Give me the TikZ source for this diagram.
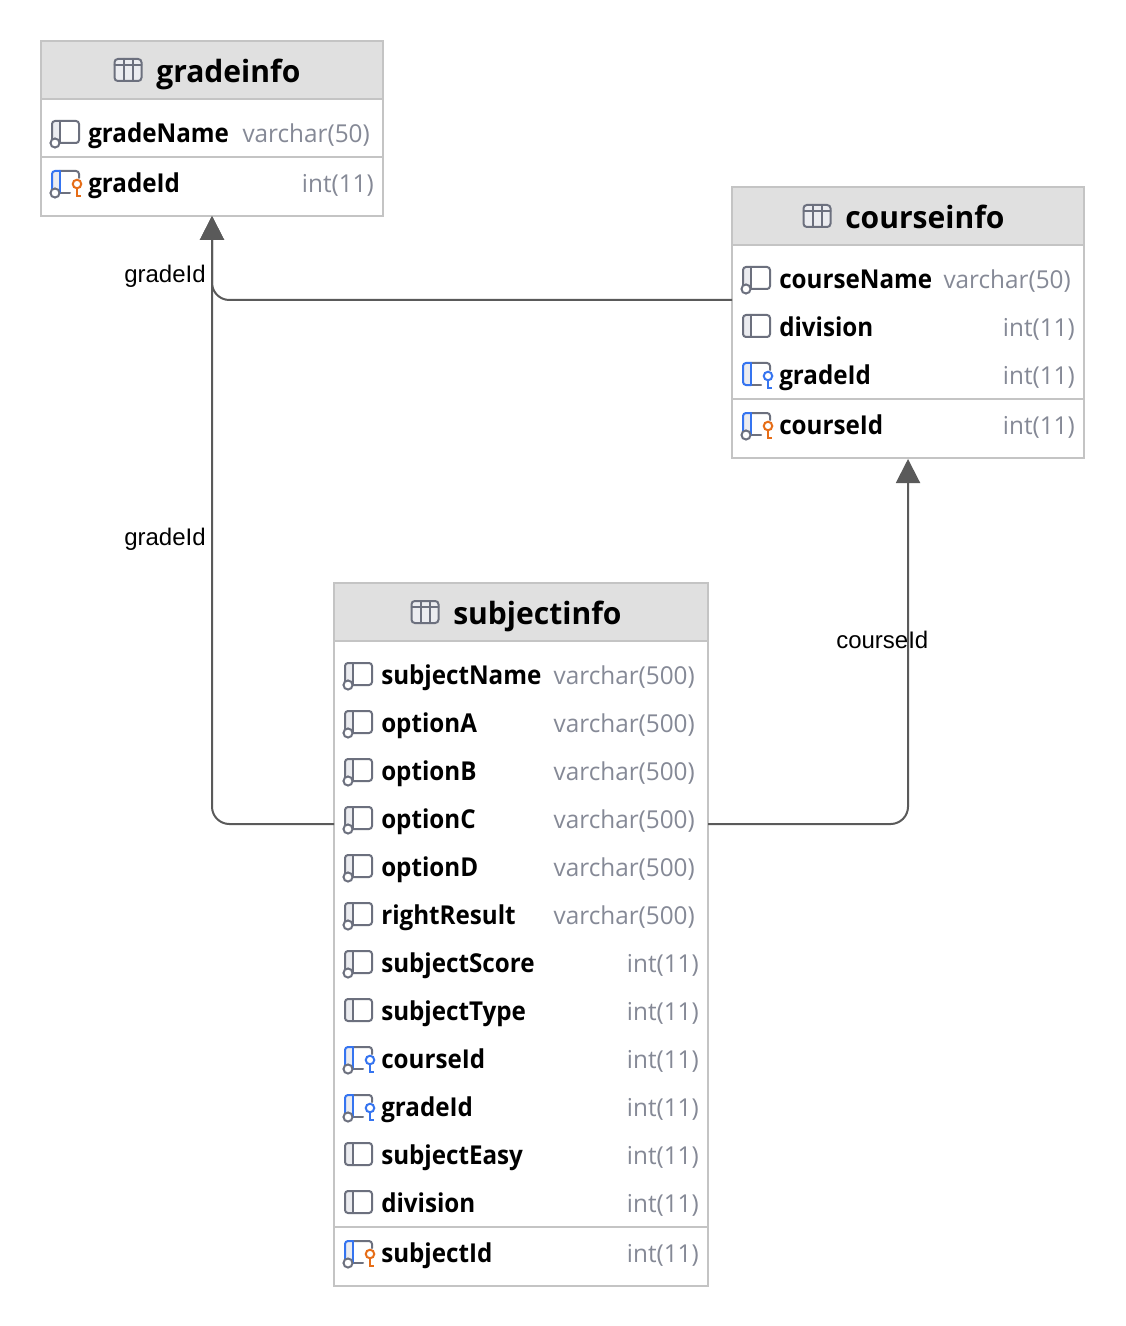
\documentclass[tikz,border=0pt]{standalone}
\usepackage{fontspec}
\usetikzlibrary{arrows.meta}
\setmainfont{Open Sans}
\newfontfamily\labelfont{Liberation Sans}
\newfontfamily\colfont[FakeStretch=0.93]{Open Sans}
\newfontfamily\titlefont[FakeStretch=0.98]{Open Sans}
\newfontfamily\typefont[FakeStretch=0.985]{Open Sans}
\definecolor{hdr}{HTML}{E0E0E0}
\definecolor{bord}{HTML}{C4C4C4}
\definecolor{typec}{HTML}{858996}
\definecolor{icong}{HTML}{6C707E}
\definecolor{iconf}{HTML}{EBECF0}
\definecolor{fkblue}{HTML}{3574F0}
\definecolor{pkor}{HTML}{E66D17}
\definecolor{conn}{HTML}{5A5A5A}
\tikzset{
  tablebox/.style={draw=bord,line width=0.9pt,fill=white,inner sep=0pt,outer sep=0pt,anchor=north west},
  headbox/.style={draw=bord,line width=0.9pt,fill=hdr,inner sep=0pt,outer sep=0pt,anchor=north west},
  sepline/.style={draw=bord,line width=1.2pt},
  titletext/.style={inner sep=0pt,anchor=base west,font=\titlefont\fontsize{23}{23}\selectfont\bfseries},
  coltext/.style={inner sep=0pt,anchor=base west,font=\colfont\fontsize{19.5}{20}\selectfont\bfseries},
  typetext/.style={inner sep=0pt,anchor=base east,text=typec,font=\typefont\fontsize{18.5}{20}\selectfont},
  linklabel/.style={inner sep=0pt,anchor=base west,font=\labelfont\fontsize{18}{18}\selectfont},
  link/.style={draw=conn,line width=1.5pt,rounded corners=13pt,-{Triangle[width=18pt,length=18pt]}},
  icon/.style={line width=1.5pt,icong,line cap=round},
  colbox/.pic={
    \fill[iconf] (0,-12) rectangle (8,10);
    \draw[icon] (3,-12) -- (24,-12) arc[start angle=90,end angle=0,radius=2.25pt] -- (27,7) arc[start angle=0,end angle=-90,radius=2.25pt] -- (3,10) arc[start angle=-90,end angle=-180,radius=2.25pt] -- (0,-9) arc[start angle=180,end angle=90,radius=2.25pt] -- cycle;
    \draw[icon] (8,-12) -- (8,10);
  },
  nullring/.pic={
    \filldraw[icon,fill=white] (3,10) circle[radius=3.4pt];
  },
  colnull/.pic={\pic{colbox};\pic{nullring};},
  fkbase/.pic={
    \fill[iconf] (0,-12) rectangle (8,10);
    \draw[icon] (8,-12) -- (24,-12) arc[start angle=90,end angle=0,radius=2.25pt] -- (27,-5);
    \draw[icon] (8,10) -- (18,10);
    \draw[icon,fkblue] (8,-12) -- (3,-12) arc[start angle=90,end angle=180,radius=2.25pt] -- (0,7);
    \draw[icon,fkblue] (8,-12) -- (8,10);
  },
  fknn/.pic={
    \pic{fkbase};
    \draw[icon,fkblue] (0,7) arc[start angle=180,end angle=270,radius=2.25pt] -- (8,10);
    \filldraw[line width=1.5pt,draw=fkblue,fill=white] (25,1) circle[radius=3.2pt];
    \draw[line width=1.5pt,fkblue] (25,6) -- (25,13) -- (29,13);
  },
  fknull/.pic={
    \pic{fkbase};\pic{nullring};
    \filldraw[line width=1.5pt,draw=fkblue,fill=white] (25,1) circle[radius=3.2pt];
    \draw[line width=1.5pt,fkblue] (25,6) -- (25,13) -- (29,13);
  },
  pkfk/.pic={
    \pic{fkbase};\pic{nullring};
    \filldraw[line width=1.5pt,draw=pkor,fill=white] (25,1) circle[radius=3.2pt];
    \draw[line width=1.5pt,pkor] (25,6) -- (25,13) -- (29,13);
  },
  tableicon/.pic={
    \filldraw[icon,fill=iconf,rounded corners=2.5pt] (-13.5,-11) rectangle (13.5,11);
    \draw[icon] (-13.5,-5) -- (13.5,-5) (-4.5,-11) -- (-4.5,11) (4.5,-11) -- (4.5,11);
  }
}
% \colrow{id}{icon x}{row y}{pic}{name}{type}{type right edge}
\newcommand{\colrow}[7]{%
  \pic at (#2,#3) {#4};
  \node[coltext] (#1n) at (#2+36,#3+9.3) {#5};
  \node[typetext] (#1t) at (#7,#3+9.3) {#6};
}
\begin{document}
\begin{tikzpicture}[x=0.75pt,y=-0.75pt]
\useasboundingbox (0,0) rectangle (1126,1326);
\fill[white] (0,0) rectangle (1126,1326);
% gradeinfo
\node[tablebox,minimum width=256.5pt,minimum height=131.25pt] (gradeinfo) at (41,41) {};
\node[headbox,minimum width=256.5pt,minimum height=43.5pt] (gradehead) at (41,41) {};
\pic at (128,70) {tableicon};
\node[titletext] (gradetitle) at (156,82.5) {gradeinfo};
\draw[sepline] (gradeinfo.west |- 0,157) -- (gradeinfo.east |- 0,157);
\colrow{ga}{52}{133}{colnull}{gradeName}{varchar(50)}{370}
\colrow{gb}{52}{183}{pkfk}{gradeId}{int(11)}{374}
% courseinfo
\node[tablebox,minimum width=264pt,minimum height=203.25pt] (courseinfo) at (732,187) {};
\node[headbox,minimum width=264pt,minimum height=43.5pt] (coursehead) at (732,187) {};
\pic at (817,216) {tableicon};
\node[titletext] (coursetitle) at (845,228.5) {courseinfo};
\draw[sepline] (courseinfo.west |- 0,399) -- (courseinfo.east |- 0,399);
\colrow{ca}{743}{279}{colnull}{courseName}{varchar(50)}{1071}
\colrow{cb}{743}{327}{colbox}{division}{int(11)}{1075}
\colrow{cc}{743}{375}{fknn}{gradeId}{int(11)}{1075}
\colrow{cd}{743}{425}{pkfk}{courseId}{int(11)}{1075}
% subjectinfo
\node[tablebox,minimum width=280.5pt,minimum height=527.25pt] (subjectinfo) at (334,583) {};
\node[headbox,minimum width=280.5pt,minimum height=43.5pt] (subjecthead) at (334,583) {};
\pic at (425,612) {tableicon};
\node[titletext] (subjecttitle) at (453,624.5) {subjectinfo};
\draw[sepline] (subjectinfo.west |- 0,1227) -- (subjectinfo.east |- 0,1227);
\colrow{sa}{345}{675}{colnull}{subjectName}{varchar(500)}{695}
\colrow{sb}{345}{723}{colnull}{optionA}{varchar(500)}{695}
\colrow{sc}{345}{771}{colnull}{optionB}{varchar(500)}{695}
\colrow{sd}{345}{819}{colnull}{optionC}{varchar(500)}{695}
\colrow{se}{345}{867}{colnull}{optionD}{varchar(500)}{695}
\colrow{sf}{345}{915}{colnull}{rightResult}{varchar(500)}{695}
\colrow{sg}{345}{963}{colnull}{subjectScore}{int(11)}{699}
\colrow{sh}{345}{1011}{colbox}{subjectType}{int(11)}{699}
\colrow{si}{345}{1059}{fknull}{courseId}{int(11)}{699}
\colrow{sj}{345}{1107}{fknull}{gradeId}{int(11)}{699}
\colrow{sk}{345}{1155}{colbox}{subjectEasy}{int(11)}{699}
\colrow{sl}{345}{1203}{colbox}{division}{int(11)}{699}
\colrow{sm}{345}{1253}{pkfk}{subjectId}{int(11)}{699}
% connectors
\coordinate (gradeport) at (212,216);
\coordinate (courseport) at (908,459);
\draw[link] (courseinfo.west |- 0,300) -- (212,300) -- (gradeport);
\draw[link] (subjectinfo.west |- 0,824) -- (212,824) -- (gradeport);
\draw[link] (subjectinfo.east |- 0,824) -- (908,824) -- (courseport);
\node[linklabel] (la) at (124,283) {gradeId};
\node[linklabel] (lb) at (124,545) {gradeId};
\node[linklabel] (lc) at (836,648) {courseId};
\end{tikzpicture}
\end{document}
